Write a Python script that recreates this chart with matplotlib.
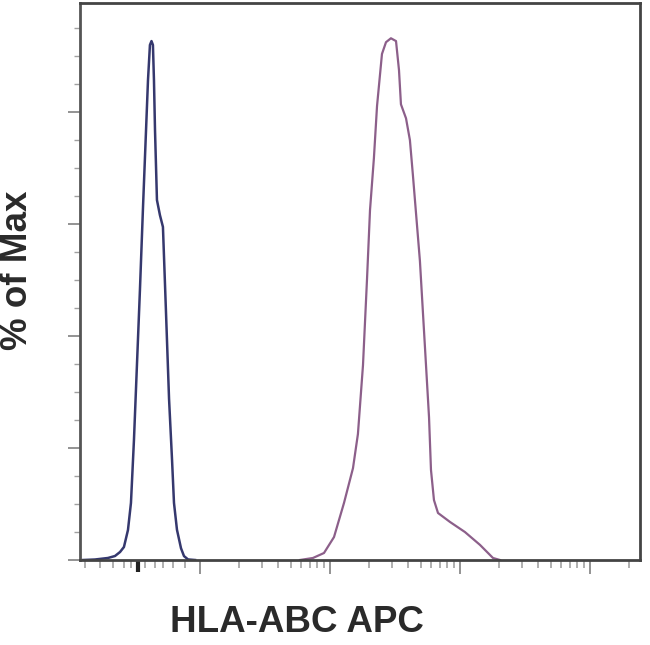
import matplotlib
matplotlib.use("Agg")
import matplotlib.pyplot as plt
import numpy as np

# x values in log-decade units (logicle-like display), y in % of Max
blue_x = [1.10, 1.192, 1.292, 1.346, 1.385, 1.415, 1.446, 1.469, 1.492, 1.515, 1.538,
          1.562, 1.585, 1.600, 1.615, 1.627, 1.638, 1.646, 1.654, 1.669, 1.692, 1.715,
          1.738, 1.762, 1.785, 1.800, 1.823, 1.854, 1.877, 1.908, 1.962]
blue_y = [0.0, 0.09, 0.36, 0.71, 1.43, 2.32, 5.36, 10.2, 21.4, 34.8, 48.2,
          63.2, 76.8, 85.7, 92.0, 92.7, 92.0, 85.7, 76.8, 64.3, 61.6, 59.5,
          44.6, 28.8, 17.9, 10.2, 5.4, 2.1, 0.7, 0.1, 0.0]

purple_x = [2.769, 2.869, 2.954, 3.031, 3.108, 3.177, 3.215, 3.254, 3.285, 3.308, 3.338,
            3.362, 3.400, 3.431, 3.469, 3.508, 3.531, 3.546, 3.585, 3.615, 3.638, 3.692,
            3.731, 3.762, 3.777, 3.800, 3.831, 3.923, 4.038, 4.154, 4.254, 4.308]
purple_y = [0.0, 0.36, 1.25, 4.1, 10.2, 16.4, 22.5, 34.8, 50.2, 62.5, 71.8,
            81.1, 90.4, 92.5, 93.2, 92.7, 87.5, 81.4, 78.9, 75.0, 68.75, 53.4,
            37.9, 25.5, 16.1, 10.7, 8.4, 6.8, 5.0, 2.7, 0.36, 0.0]

x_major = [2, 3, 4, 5]
x_linear_minor = [1.115, 1.231, 1.331, 1.415, 1.469, 1.577, 1.654, 1.715, 1.792, 1.885]
x_zero = 1.523
y_major = [0, 20, 40, 60, 80]
y_minor = [5, 10, 15, 25, 30, 35, 45, 50, 55, 65, 70, 75, 85, 90, 95]

xlabel = "HLA-ABC APC"
ylabel = "% of Max"

fig = plt.figure(figsize=(6.5, 6.45), dpi=100)
ax = fig.add_axes([80/650, 1-560/645, 560/650, 557/645])

ax.plot(blue_x, blue_y, color="#35386e", lw=1.8, solid_joinstyle="round")
ax.plot(purple_x, purple_y, color="#8c5f8a", lw=1.6, solid_joinstyle="round")

ax.set_xlim(1.077, 5.385)
ax.set_ylim(0, 99.5)

log_minor = [d + np.log10(k) for d in (2, 3, 4, 5) for k in range(2, 10)]
log_minor = [v for v in log_minor if v < 5.385]
ax.set_xticks(x_major)
ax.set_xticks(x_linear_minor + log_minor, minor=True)
ax.set_xticklabels([])
ax.set_yticks(y_major)
ax.set_yticks(y_minor, minor=True)
ax.set_yticklabels([])

ax.tick_params(axis="x", which="major", direction="out", length=10, width=1.3, color="#8a8a8a")
ax.tick_params(axis="x", which="minor", direction="out", length=6, width=1.1, color="#9a9a9a")
ax.tick_params(axis="y", which="major", direction="out", length=9, width=1.3, color="#8a8a8a")
ax.tick_params(axis="y", which="minor", direction="out", length=4, width=1.0, color="#a0a0a0")

# emphasized zero tick
ax.plot([x_zero, x_zero], [0, -2.2], color="#222222", lw=3, clip_on=False, solid_capstyle="butt")

for side, s in ax.spines.items():
    s.set_color("#444444")
    s.set_linewidth(2.0)
ax.spines["left"].set_color("#555555")

fig.text(297/650, 1-623/645, xlabel, ha="center", va="center", fontweight="bold",
         fontsize=26.5, family=["Liberation Sans", "DejaVu Sans"], color="#2a2a2a")
fig.text(18/650, 1-270/645, ylabel, ha="center", va="center", rotation=90, fontweight="bold",
         fontsize=26.5, family=["Liberation Sans", "DejaVu Sans"], color="#2a2a2a")

fig.savefig("out.png", dpi=100)
